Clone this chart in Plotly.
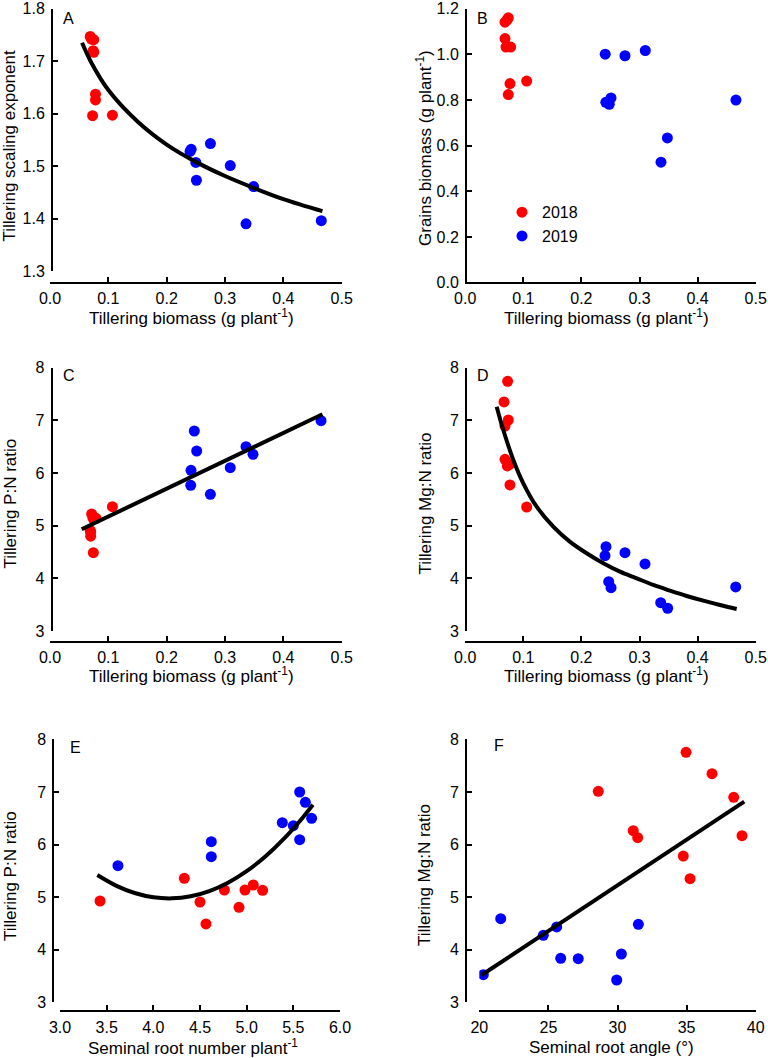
import plotly.graph_objects as go

W, H = 768, 1058
FONT = "Liberation Sans, Arial, sans-serif"
RED = "#ff0000"
BLUE = "#0000ff"

# ---------------- Panel A: tillering scaling exponent vs tillering biomass
a18_x = [0.069, 0.071, 0.075, 0.075, 0.074, 0.078, 0.078, 0.073, 0.107]
a18_y = [1.747, 1.742, 1.741, 1.717, 1.720, 1.637, 1.626, 1.596, 1.597]
a19_x = [0.240, 0.242, 0.250, 0.251, 0.275, 0.309, 0.336, 0.349, 0.465]
a19_y = [1.528, 1.532, 1.507, 1.473, 1.543, 1.501, 1.390, 1.461, 1.396]
a_fit_x = [0.055, 0.07, 0.1, 0.15, 0.2, 0.25, 0.3, 0.35, 0.4, 0.467]
a_fit_y = [1.735, 1.699, 1.645, 1.585, 1.541, 1.508, 1.481, 1.458, 1.437, 1.414]

# ---------------- Panel B: grains biomass vs tillering biomass
b18_x = [0.0685, 0.072, 0.0742, 0.0685, 0.0702, 0.0783, 0.0771, 0.0742, 0.1058]
b18_y = [1.141, 1.150, 1.160, 1.069, 1.032, 1.032, 0.872, 0.824, 0.883]
b19_x = [0.241, 0.275, 0.310, 0.242, 0.248, 0.251, 0.337, 0.348, 0.466]
b19_y = [1.001, 0.994, 1.017, 0.790, 0.781, 0.809, 0.528, 0.634, 0.800]

# ---------------- Panel C: P:N ratio vs tillering biomass
c18_x = [0.107, 0.0714, 0.079, 0.0737, 0.0768, 0.069, 0.0697, 0.0697, 0.0743]
c18_y = [5.361, 5.222, 5.14, 5.14, 5.13, 4.91, 4.88, 4.80, 4.488]
c19_x = [0.2474, 0.2514, 0.2417, 0.2412, 0.2749, 0.309, 0.336, 0.348, 0.4646]
c19_y = [6.798, 6.418, 6.052, 5.767, 5.596, 6.101, 6.50, 6.355, 6.994]
c_fit_x = [0.0543, 0.467]
c_fit_y = [4.932, 7.115]

# ---------------- Panel D: Mg:N ratio vs tillering biomass
d18_x = [0.073, 0.0668, 0.0742, 0.0685, 0.0685, 0.0725, 0.077, 0.077, 0.1058]
d18_y = [7.742, 7.349, 7.007, 6.893, 6.26, 6.134, 6.17, 5.773, 5.355]
d19_x = [0.2423, 0.2406, 0.275, 0.3095, 0.247, 0.251, 0.3365, 0.3485, 0.4656]
d19_y = [4.602, 4.43, 4.487, 4.273, 3.937, 3.823, 3.538, 3.432, 3.836]
d_fit_x = [0.0542, 0.0656, 0.0828, 0.100, 0.123, 0.1516, 0.180, 0.209, 0.2377,
           0.2664, 0.2952, 0.3238, 0.3525, 0.3812, 0.4098, 0.4386, 0.4673]
d_fit_y = [7.26, 6.817, 6.248, 5.805, 5.361, 4.981, 4.697, 4.476, 4.286,
           4.127, 4.001, 3.874, 3.766, 3.665, 3.576, 3.494, 3.418]

# ---------------- Panel E: P:N ratio vs seminal root number
e18_x = [3.429, 4.332, 4.5, 4.564, 4.761, 4.918, 4.982, 5.071, 5.171]
e18_y = [4.926, 5.357, 4.907, 4.489, 5.135, 4.806, 5.135, 5.230, 5.129]
e19_x = [3.621, 4.621, 4.621, 5.382, 5.5, 5.568, 5.568, 5.629, 5.696]
e19_y = [5.597, 6.053, 5.768, 6.415, 6.357, 6.998, 6.091, 6.802, 6.498]
e_fit_x = [3.4, 3.6, 3.8, 4.0, 4.2, 4.4, 4.6, 4.8, 5.0, 5.2, 5.4, 5.6, 5.71]
e_fit_y = [5.42, 5.219, 5.078, 4.997, 4.976, 5.015, 5.114, 5.273, 5.492, 5.771, 6.110, 6.509, 6.754]

# ---------------- Panel F: Mg:N ratio vs seminal root angle
f18_x = [28.61, 31.14, 31.46, 34.96, 36.84, 38.41, 39.01, 34.76, 35.25]
f18_y = [7.011, 6.263, 6.130, 7.753, 7.346, 6.897, 6.167, 5.781, 5.350]
f19_x = [20.29, 21.55, 24.63, 25.60, 25.89, 27.16, 29.94, 30.28, 31.51]
f19_y = [3.525, 4.589, 4.274, 4.432, 3.837, 3.829, 3.424, 3.918, 4.483]
f_fit_x = [20.17, 39.17]
f_fit_y = [3.519, 6.814]

panel_letters = ["A", "B", "C", "D", "E", "F"]
legend_names = ["2018", "2019"]


def px(x):
    return x / W


def py(y):
    return 1 - y / H


fig = go.Figure()
MS = 11


def add_panel(i, r_x, r_y, b_x, b_y, fx=None, fy=None, spline=False, legend=False):
    xa = "x" if i == 1 else f"x{i}"
    ya = "y" if i == 1 else f"y{i}"
    fig.add_trace(go.Scatter(x=r_x, y=r_y, mode="markers", xaxis=xa, yaxis=ya,
                             marker=dict(color=RED, size=MS), name=legend_names[0],
                             showlegend=legend, legend="legend"))
    fig.add_trace(go.Scatter(x=b_x, y=b_y, mode="markers", xaxis=xa, yaxis=ya,
                             marker=dict(color=BLUE, size=MS), name=legend_names[1],
                             showlegend=legend, legend="legend2"))
    if fx is not None:
        fig.add_trace(go.Scatter(x=fx, y=fy, mode="lines", xaxis=xa, yaxis=ya,
                                 line=dict(color="black", width=4,
                                           shape="spline" if spline else "linear"),
                                 showlegend=False))


add_panel(1, a18_x, a18_y, a19_x, a19_y, a_fit_x, a_fit_y, spline=True)
add_panel(2, b18_x, b18_y, b19_x, b19_y, legend=True)
add_panel(3, c18_x, c18_y, c19_x, c19_y, c_fit_x, c_fit_y)
add_panel(4, d18_x, d18_y, d19_x, d19_y, d_fit_x, d_fit_y, spline=True)
add_panel(5, e18_x, e18_y, e19_x, e19_y, e_fit_x, e_fit_y, spline=True)
add_panel(6, f18_x, f18_y, f19_x, f19_y, f_fit_x, f_fit_y)

tickfont = dict(family=FONT, size=16, color="black")
common = dict(showline=True, linecolor="black", linewidth=2, ticks="inside",
              ticklen=5, tickwidth=2, tickcolor="black", showgrid=False,
              zeroline=False, tickfont=tickfont, anchor="free", fixedrange=True,
              automargin=False, ticklabeloverflow="allow")

geo = {
    1: dict(xd=(50, 341.7), xpos=282.7, yd=(8.7, 271), ypos=52),
    2: dict(xd=(465.2, 755.7), xpos=283, yd=(8.7, 282.7), ypos=466),
    3: dict(xd=(50, 341.7), xpos=641.7, yd=(367.7, 631), ypos=51.7),
    4: dict(xd=(465.2, 755.7), xpos=641.7, yd=(367.7, 631), ypos=466),
    5: dict(xd=(60, 340), xpos=1011, yd=(739.3, 1002.3), ypos=53.3),
    6: dict(xd=(479.3, 755.7), xpos=1011, yd=(739.3, 1002.3), ypos=466),
}
xranges = {1: [0, 0.5], 2: [0, 0.5], 3: [0, 0.5], 4: [0, 0.5], 5: [3, 6], 6: [20, 40]}
xdt = {1: 0.1, 2: 0.1, 3: 0.1, 4: 0.1, 5: 0.5, 6: 5}
xfmt = {1: ".1f", 2: ".1f", 3: ".1f", 4: ".1f", 5: ".1f", 6: "d"}
xstand = {1: 1, 2: 1, 3: 1, 4: 1, 5: 2, 6: 2}
yranges = {1: [1.3, 1.8], 2: [0, 1.2], 3: [3, 8], 4: [3, 8], 5: [3, 8], 6: [3, 8]}
ydt = {1: 0.1, 2: 0.2, 3: 1, 4: 1, 5: 1, 6: 1}
yfmt = {1: ".1f", 2: ".1f", 3: "d", 4: "d", 5: "d", 6: "d"}

layout = {}
for i in range(1, 7):
    g = geo[i]
    xk = "xaxis" if i == 1 else f"xaxis{i}"
    yk = "yaxis" if i == 1 else f"yaxis{i}"
    layout[xk] = dict(common, domain=[px(g["xd"][0]), px(g["xd"][1])],
                      position=py(g["xpos"]), range=xranges[i], dtick=xdt[i],
                      tick0=xranges[i][0], tickformat=xfmt[i],
                      ticklabelstandoff=xstand[i])
    layout[yk] = dict(common, domain=[py(g["yd"][1]), py(g["yd"][0])],
                      position=px(g["ypos"]), range=yranges[i], dtick=ydt[i],
                      tick0=yranges[i][0], tickformat=yfmt[i], ticklabelstandoff=3)

fig.update_layout(**layout)

ann = []
lab_pos = [(68, 19), (482.5, 18.5), (69, 375.5), (483, 375.5), (75, 747.5), (498.5, 745)]
for t, (x, y) in zip(panel_letters, lab_pos):
    ann.append(dict(text=t, x=px(x), y=py(y), xref="paper", yref="paper",
                    xanchor="center", yanchor="middle", showarrow=False,
                    font=dict(family=FONT, size=16, color="black")))

TS = 17
xtitles = [
    ("Tillering biomass (g plant<sup>-1</sup>)", 191.7, 317),
    ("Tillering biomass (g plant<sup>-1</sup>)", 606.9, 317),
    ("Tillering biomass (g plant<sup>-1</sup>)", 191.7, 675),
    ("Tillering biomass (g plant<sup>-1</sup>)", 606.7, 675),
    ("Seminal root number plant<sup>-1</sup>", 192.5, 1047),
    ("Seminal root angle (°)", 611, 1047),
]
ytitles = [
    ("Tillering scaling exponent", 9.5, 146),
    ("Grains biomass (g plant<sup>-1</sup>)", 424, 148),
    ("Tillering P:N ratio", 10, 503.5),
    ("Tillering Mg:N ratio", 424.5, 504),
    ("Tillering P:N ratio", 10, 876),
    ("Tillering Mg:N ratio", 424.5, 875.5),
]
for t, x, y in xtitles:
    ann.append(dict(text=t, x=px(x), y=py(y), xref="paper", yref="paper",
                    xanchor="center", yanchor="middle", showarrow=False,
                    font=dict(family=FONT, size=TS, color="black")))
for t, x, y in ytitles:
    ann.append(dict(text=t, x=px(x), y=py(y), xref="paper", yref="paper",
                    xanchor="center", yanchor="middle", showarrow=False, textangle=-90,
                    font=dict(family=FONT, size=TS, color="black")))

legfont = dict(family=FONT, size=16, color="black")
fig.update_layout(
    template="none",
    width=W, height=H,
    margin=dict(l=0, r=0, t=0, b=0, pad=0, autoexpand=False),
    paper_bgcolor="white", plot_bgcolor="white",
    annotations=ann,
    legend=dict(x=px(502), y=py(212.3), xanchor="left", yanchor="middle",
                font=legfont, bgcolor="rgba(0,0,0,0)", borderwidth=0),
    legend2=dict(x=px(502), y=py(236), xanchor="left", yanchor="middle",
                 font=legfont, bgcolor="rgba(0,0,0,0)", borderwidth=0),
)

fig.write_html("out.html", config={"displayModeBar": False},
               post_script="document.body.style.margin='0';document.body.style.overflow='hidden';")
